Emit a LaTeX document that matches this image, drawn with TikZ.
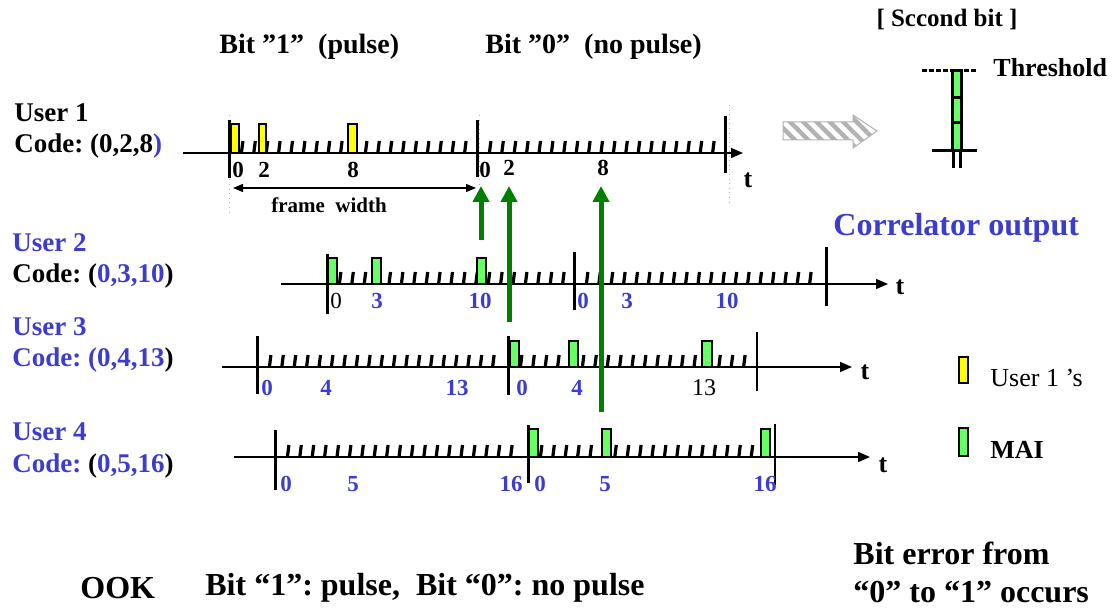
\documentclass[tikz,border=0pt]{standalone}
\usepackage{fontspec}
\setmainfont{Liberation Serif}
\usepackage{tikz}
\usetikzlibrary{arrows.meta,patterns.meta}
\frenchspacing

\definecolor{ublue}{RGB}{60,60,205}
\definecolor{mgreen}{RGB}{0,128,0}
\definecolor{pgreen}{RGB}{102,255,102}
\definecolor{pyellow}{RGB}{255,255,0}

\begin{document}
\begin{tikzpicture}[x=0.5pt, y=-0.5pt,
    axisline/.style={line width=0.75pt, -{Triangle[length=6pt,width=5pt]}},
    framebar/.style={line width=1.5pt},
    thinbar/.style={line width=0.75pt},
    chiptick/.style={line width=1.6pt},
    pulseY/.style={draw=black, line width=0.6pt, fill=pyellow},
    pulseG/.style={draw=black, line width=0.6pt, fill=pgreen},
    lbl/.style={font=\fontsize{13.5}{16}\selectfont\bfseries, inner sep=0pt, anchor=west},
    big/.style={font=\fontsize{16}{19}\selectfont\bfseries, inner sep=0pt, anchor=west},
    num/.style={font=\fontsize{11.5}{13}\selectfont\bfseries, inner sep=0pt},
    tlbl/.style={font=\fontsize{13}{15}\selectfont\bfseries, inner sep=0pt},
    mai/.style={line width=2.5pt, mgreen, -{Triangle[length=8pt,width=8pt]}},
    guide/.style={gray!60, line width=0.3pt, dotted}]
    \useasboundingbox (0,0) rectangle (1113,608);

    % --- Titres ---
    \node[lbl, font=\fontsize{14}{16}\selectfont\bfseries] (bit1) at (219,47) {Bit ”1”\ \ (pulse)};
    \node[lbl, font=\fontsize{14}{16}\selectfont\bfseries] (bit0) at (485,47) {Bit ”0”\ \ (no pulse)};

    % --- User 1 ---
    \node[lbl] (u1name) at (14,113) {User 1};
    \node[lbl] (u1code) at (14,146) {Code: (0,2,8{\color{ublue})}};
    \draw[guide] (229,115) -- (229,212);
    \draw[guide] (479,115) -- (479,192);
    \draw[guide] (729,105) -- (729,203);
    \coordinate (u1s) at (183,153);
    \coordinate (u1e) at (743,153);
    \draw[axisline] (u1s) -- (u1e);
    \foreach \f in {229,477}
        \foreach \i in {1,...,19}
            \draw[chiptick] (\f+\i*12.4,153) -- ++(1.5,-12);
    \draw[framebar] (229,120) -- (229,178);
    \draw[framebar] (477,120) -- (477,177);
    \draw[framebar] (725,116) -- (725,173);
    \draw[pulseY] (231,124) rectangle (239,153);
    \draw[pulseY] (259,124) rectangle (266,153);
    \draw[pulseY] (348,124) rectangle (357,153);
    \node[num] (u1a) at (238,170) {0};
    \node[num] (u1b) at (264,170) {2};
    \node[num] (u1c) at (353,170) {8};
    \node[num] (u1d) at (485,170) {0};
    \node[num] (u1f) at (509,168) {2};
    \node[num] (u1g) at (603,168) {8};
    \node[tlbl] (u1t) at (748,180) {t};
    % largeur de trame
    \coordinate (fwl) at (233,188);
    \coordinate (fwr) at (476,188);
    \draw[line width=0.6pt, {Triangle[length=5pt,width=4pt]}-{Triangle[length=5pt,width=4pt]}] (fwl) -- (fwr);
    \node[num, font=\fontsize{10.5}{12}\selectfont\bfseries] (fw) at (329,205) {frame\ \ width};

    % --- User 2 ---
    \node[lbl, ublue] (u2name) at (12,243) {User 2};
    \node[lbl] (u2code) at (12,276) {Code: ({\color{ublue}0,3,10})};
    \coordinate (u2s) at (281,284);
    \coordinate (u2e) at (888,284);
    \draw[axisline] (u2s) -- (u2e);
    \foreach \f in {327,574}
        \foreach \i in {1,...,19}
            \draw[chiptick] (\f+\i*12.4,284) -- ++(1.5,-12);
    \draw[framebar] (327,254) -- (327,314);
    \draw[framebar] (574,252) -- (574,310);
    \draw[framebar] (826,247) -- (826,306);
    \draw[pulseG] (328,258) rectangle (337,284);
    \draw[pulseG] (372,258) rectangle (381,284);
    \draw[pulseG] (477,258) rectangle (486,284);
    \node[num, font=\fontsize{11.5}{13}\selectfont] (u2a) at (336,301) {0};
    \node[num, ublue] (u2b) at (377,301) {3};
    \node[num, ublue] (u2c) at (480,301) {10};
    \node[num, ublue] (u2d) at (583,301) {0};
    \node[num, ublue] (u2f) at (627,301) {3};
    \node[num, ublue] (u2g) at (727,301) {10};
    \node[tlbl] (u2t) at (900,287) {t};

    % --- User 3 ---
    \node[lbl, ublue] (u3name) at (12,327) {User 3};
    \node[lbl, ublue] (u3code) at (12,360) {Code: (0,4,13{\color{black})}};
    \coordinate (u3s) at (222,367);
    \coordinate (u3e) at (852,367);
    \draw[axisline] (u3s) -- (u3e);
    \foreach \f in {257,508}
        \foreach \i in {1,...,19}
            \draw[chiptick] (\f+\i*12.4,367) -- ++(1.5,-12);
    \draw[framebar] (257,336) -- (257,394);
    \draw[framebar] (508,336) -- (508,395);
    \draw[thinbar] (757,332) -- (757,391);
    \draw[pulseG] (510,341) rectangle (519,367);
    \draw[pulseG] (569,341) rectangle (578,367);
    \draw[pulseG] (702,341) rectangle (712,367);
    \node[num, ublue] (u3a) at (267,388) {0};
    \node[num, ublue] (u3b) at (326,388) {4};
    \node[num, ublue] (u3c) at (457,388) {13};
    \node[num, ublue] (u3d) at (522,388) {0};
    \node[num, ublue] (u3f) at (577,388) {4};
    \node[num, font=\fontsize{12}{13}\selectfont] (u3g) at (704,388) {13};
    \node[tlbl] (u3t) at (865,372) {t};

    % --- User 4 ---
    \node[lbl, ublue] (u4name) at (12,432) {User 4};
    \node[lbl, ublue] (u4code) at (12,466) {Code: {\color{black}(}0,5,16{\color{black})}};
    \coordinate (u4s) at (234,457);
    \coordinate (u4e) at (870,457);
    \draw[axisline] (u4s) -- (u4e);
    \foreach \f in {275,528}
        \foreach \i in {1,...,19}
            \draw[chiptick] (\f+\i*12.4,457) -- ++(1.5,-12);
    \draw[framebar] (275,430) -- (275,490);
    \draw[framebar] (528,425) -- (528,483);
    \draw[thinbar] (775,424) -- (775,485);
    \draw[pulseG] (529,429) rectangle (538,457);
    \draw[pulseG] (602,429) rectangle (611,457);
    \draw[pulseG] (761,429) rectangle (770,457);
    \node[num, ublue] (u4a) at (286,484) {0};
    \node[num, ublue] (u4b) at (353,484) {5};
    \node[num, ublue] (u4c) at (511,484) {16};
    \node[num, ublue] (u4d) at (540,484) {0};
    \node[num, ublue] (u4f) at (605,484) {5};
    \node[num, ublue] (u4g) at (765,484) {16};
    \node[tlbl] (u4t) at (883,465) {t};

    % --- Fleches MAI (vertes) ---
    \coordinate (m1s) at (481,240);
    \coordinate (m1e) at (481,186);
    \coordinate (m2s) at (509,322);
    \coordinate (m2e) at (509,186);
    \coordinate (m3s) at (601,412);
    \coordinate (m3e) at (601,186);
    \draw[mai] (m1s) -- (m1e);
    \draw[mai] (m2s) -- (m2e);
    \draw[mai] (m3s) -- (m3e);

    % --- Sortie du correlateur ---
    \draw[gray!60, line width=0.5pt, pattern={Lines[angle=-45,distance=4.7pt,line width=2.2pt]}, pattern color=gray!60]
        (783,122) -- (853,122) -- (853,115) -- (877,131) -- (853,148) -- (853,140) -- (783,140) -- cycle;
    \node[font=\fontsize{12.5}{15}\selectfont\bfseries, inner sep=0pt] (second) at (947,20) {[ Sccond bit ]};
    \draw[line width=1.5pt, dash pattern=on 2.5pt off 1pt] (922,71) -- (977,71);
    \node[lbl, font=\fontsize{13}{15}\selectfont\bfseries] (thr) at (993,68) {Threshold};
    \draw[pulseG, line width=1.5pt] (952,71) rectangle (961,98);
    \draw[pulseG, line width=1.5pt] (952,98) rectangle (961,123);
    \draw[pulseG, line width=1.5pt] (952,123) rectangle (961,151);
    \draw[line width=1.5pt] (932,151) -- (977,151);
    \draw[line width=1.5pt] (953,151) -- (953,168);
    \draw[line width=1.5pt] (960,151) -- (960,168);
    \node[big, ublue] (corr) at (833,228) {Correlator output};

    % --- Legende ---
    \draw[pulseY] (959,357) rectangle (968,383);
    \node[lbl, font=\fontsize{13}{15}\selectfont] (legY) at (990,378) {User 1 ’s};
    \draw[pulseG] (959,428) rectangle (968,456);
    \node[lbl, font=\fontsize{13}{15}\selectfont\bfseries] (legG) at (990,450) {MAI};

    % --- Textes du bas ---
    \node[big] (ook) at (80,588) {OOK};
    \node[big] (ookdef) at (205,588) {Bit “1”: pulse,\ \ Bit “0”: no pulse};
    \node[big] (err1) at (853,553) {Bit error from};
    \node[big] (err2) at (853,592) {“0” to “1” occurs};
\end{tikzpicture}
\end{document}
